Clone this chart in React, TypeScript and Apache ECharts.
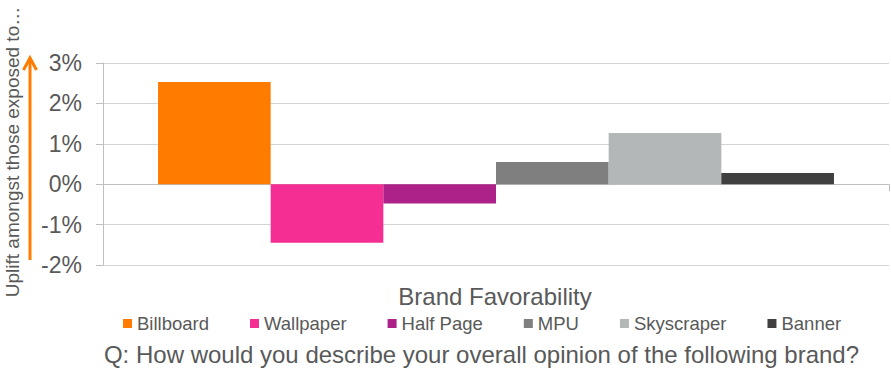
import React, { useEffect, useRef } from "react";
import * as echarts from "echarts";

const categories = ["Brand Favorability"];
const seriesNames = ["Billboard", "Wallpaper", "Half Page", "MPU", "Skyscraper", "Banner"];
const seriesValues = [2.53, -1.45, -0.48, 0.55, 1.27, 0.28];
const seriesColors = ["#FF7C00", "#F52E93", "#AD2289", "#7F7F7F", "#B4B7B7", "#404040"];
const yTicks = { min: -2, max: 3, interval: 1 };
const yTitle = "Uplift amongst those exposed to…";
const question = "Q: How would you describe your overall opinion of the following brand?";

const FONT = "'Liberation Sans', Arial, sans-serif";
const TEXT = "#595959";

export default function App() {
  const ref = useRef<HTMLDivElement>(null);
  useEffect(() => {
    document.body.style.margin = "0";
    if (!ref.current) return;
    const chart = echarts.init(ref.current, undefined, { renderer: "svg" });
    const orange = "#FF7C00";
    chart.setOption({
      animation: false,
      textStyle: { fontFamily: FONT },
      grid: { left: 103, right: 2, top: 63, bottom: 107, containLabel: false },
      legend: {
        data: seriesNames,
        left: 118,
        top: 309,
        icon: "rect",
        itemWidth: 9,
        itemHeight: 9,
        itemGap: 41,
        textStyle: { fontSize: 18.5, color: TEXT, fontFamily: FONT },
      },
      xAxis: {
        type: "category",
        data: categories,
        axisLine: { show: true, onZero: true, lineStyle: { color: "#BFBFBF", width: 1 } },
        axisTick: { show: true, length: 7, lineStyle: { color: "#BFBFBF" } },
        axisLabel: { show: false },
        splitLine: { show: false },
      },
      yAxis: {
        type: "value",
        min: yTicks.min,
        max: yTicks.max,
        interval: yTicks.interval,
        axisLine: { show: true, lineStyle: { color: "#BFBFBF", width: 1 } },
        axisTick: { show: true, length: 7, lineStyle: { color: "#BFBFBF" } },
        axisLabel: {
          formatter: "{value}%",
          fontSize: 23,
          color: TEXT,
          margin: 21,
          fontFamily: FONT,
        },
        splitLine: { show: true, lineStyle: { color: "#D4D4D4", width: 1 } },
      },
      series: seriesNames.map((name, i) => ({
        name,
        type: "bar",
        data: [seriesValues[i]],
        barGap: "0%",
        barCategoryGap: "14%",
        itemStyle: { color: seriesColors[i] },
      })),
      graphic: [
        {
          type: "text",
          x: 495,
          y: 296,
          style: {
            text: categories[0],
            fontSize: 24,
            fontFamily: FONT,
            fill: TEXT,
            align: "center",
            verticalAlign: "middle",
            textAlign: "center",
            textVerticalAlign: "middle",
          },
        },
        {
          type: "text",
          x: 481.5,
          y: 354,
          style: {
            text: question,
            fontSize: 24,
            fontFamily: FONT,
            fill: TEXT,
            align: "center",
            verticalAlign: "middle",
            textAlign: "center",
            textVerticalAlign: "middle",
          },
        },
        {
          type: "text",
          x: 12,
          y: 152,
          rotation: Math.PI / 2,
          style: {
            text: yTitle,
            fontSize: 19,
            fontFamily: FONT,
            fill: TEXT,
            align: "center",
            verticalAlign: "middle",
            textAlign: "center",
            textVerticalAlign: "middle",
          },
        },
        {
          type: "line",
          shape: { x1: 30, y1: 260, x2: 30, y2: 59 },
          style: { stroke: orange, lineWidth: 3 },
        },
        {
          type: "polyline",
          shape: { points: [[23.5, 70], [30, 58], [36.5, 70]] },
          style: { stroke: orange, lineWidth: 3, fill: "none" },
        },
      ],
    });
    return () => chart.dispose();
  }, []);
  return <div ref={ref} style={{ width: 891, height: 372 }} />;
}
